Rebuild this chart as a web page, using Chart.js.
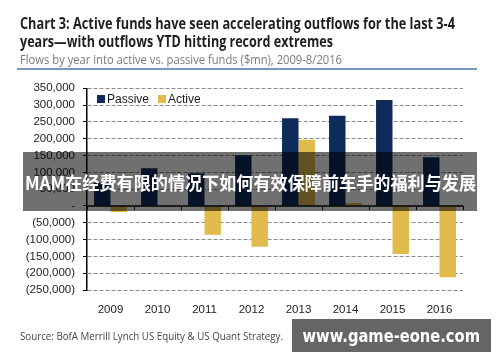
<!DOCTYPE html>
<html>
<head>
<meta charset="utf-8">
<script src="https://cdn.jsdelivr.net/npm/chart.js@4/dist/chart.umd.min.js"></script>
<style>
html,body{margin:0;padding:0;background:#fff;}
canvas{display:block;}
</style>
</head>
<body>
<canvas id="c" width="500" height="362"></canvas>
<script>
const categories = ['2009','2010','2011','2012','2013','2014','2015','2016'];
const passive = [70000, 112000, 97000, 151000, 261000, 268000, 315000, 145000];
const active = [-18000, -3000, -86000, -121000, 197000, 9000, -143000, -212000];
const seriesLabels = ['Passive', 'Active'];
const yTicks = {min: -250000, max: 350000, step: 50000};
const titleLines = ['Chart 3: Active funds have seen accelerating outflows for the last 3-4', 'years\u2014with outflows YTD hitting record extremes'];
const subtitle = 'Flows by year into active vs. passive funds ($mn), 2009-8/2016';
const source = 'Source: BofA Merrill Lynch US Equity & US Quant Strategy.';
const overlayText = 'MAM在经费有限的情况下如何有效保障前车手的福利与发展';
const siteText = 'www.game-eone.com';

const NAVY = '#0f2b5b', GOLD = '#e2bb4d';

function fitText(ctx, text, x, y, w, font, color) {
  ctx.save();
  ctx.font = font;
  ctx.fillStyle = color;
  ctx.textBaseline = 'alphabetic';
  ctx.textAlign = 'left';
  const m = ctx.measureText(text).width;
  ctx.translate(x, y);
  ctx.scale(w / m, 1);
  ctx.fillText(text, 0, 0);
  ctx.restore();
}

function fmt(v) {
  if (v === 0) return '-';
  const s = Math.abs(v).toLocaleString('en-US');
  return v < 0 ? '(' + s + ')' : s;
}

const decor = {
  id: 'decor',
  afterDatasetsDraw(chart) {
    const ctx = chart.ctx;
    const xs = chart.scales.x, ys = chart.scales.y;
    const area = chart.chartArea;
    const y0 = ys.getPixelForValue(0);
    ctx.save();
    ctx.strokeStyle = '#000';
    ctx.lineWidth = 1.5;
    ctx.beginPath();
    ctx.moveTo(area.left, y0);
    ctx.lineTo(area.right, y0);
    ctx.stroke();
    ctx.lineWidth = 1;
    for (let i = 0; i <= categories.length; i++) {
      const px = Math.round(xs.getPixelForValue(i - 0.5)) + 0.5;
      ctx.beginPath();
      ctx.moveTo(px, y0);
      ctx.lineTo(px, y0 + 4);
      ctx.stroke();
    }
    ctx.restore();
    ctx.save();
    ctx.font = '12px "Liberation Sans", Arial, sans-serif';
    ctx.textBaseline = 'middle';
    const colors = [NAVY, GOLD];
    let lx = area.left + 10;
    const ly = 99;
    seriesLabels.forEach((lab, i) => {
      ctx.fillStyle = colors[i];
      ctx.fillRect(lx, ly - 4, 8, 8);
      ctx.fillStyle = '#1a1a1a';
      ctx.fillText(lab, lx + 10, ly + 0.5);
      lx += 10 + ctx.measureText(lab).width + 9;
    });
    ctx.restore();
  },
  afterDraw(chart) {
    const ctx = chart.ctx;
    fitText(ctx, titleLines[0], 20, 29, 435, 'bold 16px "Open Sans", sans-serif', '#1f1f1f');
    fitText(ctx, titleLines[1], 20, 47, 313, 'bold 16px "Open Sans", sans-serif', '#1f1f1f');
    fitText(ctx, subtitle, 20, 63.5, 322, '12px "Open Sans", sans-serif', '#7a7a7a');
    ctx.save();
    ctx.strokeStyle = '#4f73ad';
    ctx.lineWidth = 1.5;
    ctx.beginPath();
    ctx.moveTo(17, 69);
    ctx.lineTo(477, 69);
    ctx.stroke();
    ctx.restore();
    fitText(ctx, source, 20, 339.5, 263, '10.5px "Open Sans", sans-serif', '#444');
    ctx.save();
    ctx.fillStyle = 'rgba(0,0,0,0.56)';
    ctx.fillRect(23, 152, 454, 59);
    ctx.restore();
    fitText(ctx, overlayText, 25, 189.5, 451, 'bold 18px "Noto Sans CJK SC", sans-serif', '#ffffff');
    ctx.save();
    ctx.fillStyle = '#656565';
    ctx.fillRect(292, 319, 199, 33);
    ctx.restore();
    fitText(ctx, siteText, 302.5, 342, 177.5, 'bold 17px "DejaVu Sans", sans-serif', '#ffffff');
  }
};

new Chart(document.getElementById('c'), {
  type: 'bar',
  data: {
    labels: categories,
    datasets: [
      {label: seriesLabels[0], data: passive, backgroundColor: NAVY, categoryPercentage: 0.7, barPercentage: 1},
      {label: seriesLabels[1], data: active, backgroundColor: GOLD, categoryPercentage: 0.7, barPercentage: 1}
    ]
  },
  options: {
    responsive: false,
    animation: false,
    devicePixelRatio: 1,
    layout: {padding: {top: 88.3, right: 37, bottom: 0, left: 0}},
    plugins: {legend: {display: false}, tooltip: {enabled: false}, title: {display: false}},
    scales: {
      x: {
        grid: {display: false},
        border: {display: false},
        ticks: {color: '#222', font: {family: '"Liberation Sans", Arial, sans-serif', size: 11.5}, padding: 5, maxRotation: 0},
        afterFit(s) { s.height = 72; }
      },
      y: {
        min: yTicks.min, max: yTicks.max,
        ticks: {stepSize: yTicks.step, color: '#222', font: {family: '"Liberation Sans", Arial, sans-serif', size: 11.5}, padding: 8, callback: v => fmt(v)},
        grid: {
          color: ctx => (ctx.tick && ctx.tick.value === 0) ? 'rgba(0,0,0,0)' : '#8c8c8c',
          lineWidth: 1,
          drawTicks: true,
          tickLength: 4,
          tickColor: '#000',
          tickBorderDash: [],
          tickWidth: 1
        },
        border: {display: true, color: '#000', width: 1.5, dash: [4, 2]},
        afterFit(s) { s.width = 87; }
      }
    }
  },
  plugins: [decor]
});
</script>
</body>
</html>
